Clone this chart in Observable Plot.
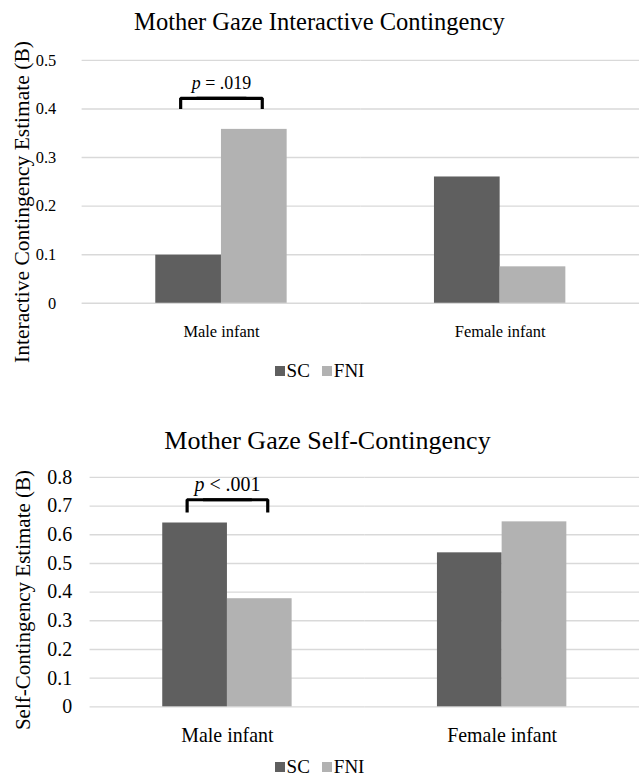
<!DOCTYPE html>
<html><head><meta charset="utf-8">
<script src="https://cdn.jsdelivr.net/npm/d3@7"></script>
<script src="https://cdn.jsdelivr.net/npm/@observablehq/plot@0.6"></script>
<style>
html,body{margin:0;padding:0;background:#fff;overflow:hidden;}
#wrap{position:relative;width:639px;height:780px;overflow:hidden;font-family:"Liberation Serif","Times New Roman",serif;color:#000;background:#fff;}
.title{position:absolute;left:0;text-align:center;white-space:nowrap;line-height:1;}
.ylab{position:absolute;white-space:nowrap;transform:translate(-50%,-50%) rotate(-90deg);line-height:1;}
.legend{position:absolute;left:0;width:639px;text-align:center;white-space:nowrap;line-height:1;}
.legend span.item{margin:0 6px;}
.sw{display:inline-block;width:10px;height:10px;margin-right:2px;vertical-align:1px;}
.chart{position:absolute;left:0;}
</style></head><body><div id="wrap"></div>
<script>
// ---- data ----
const categories = ["Male infant", "Female infant"];
const series = ["SC", "FNI"];
const interactiveSC = [0.099, 0.26];
const interactiveFNI = [0.358, 0.075];
const selfSC = [0.641, 0.537];
const selfFNI = [0.377, 0.645];
const interactiveTicks = [0, 0.1, 0.2, 0.3, 0.4, 0.5];
const selfTicks = [0, 0.1, 0.2, 0.3, 0.4, 0.5, 0.6, 0.7, 0.8];
const pLabels = ["p = .019", "p < .001"];
const titles = ["Mother Gaze Interactive Contingency", "Mother Gaze Self-Contingency"];
const yLabels = ["Interactive Contingency Estimate (B)", "Self-Contingency Estimate (B)"];
const interactiveBracket = [0.4, 0.422]; // leg bottom, bar top
const selfBracket = [0.678, 0.722];
const interactivePY = 0.442;
const selfPY = 0.752;

// ---- styles ----
const colors = ["#5f5f5f", "#b2b2b2"];
const gridColor = "#d9d9d9";
const font = '"Liberation Serif","Times New Roman",serif';

function rows(sc, fni) {
  const out = [];
  categories.forEach((c, i) => {
    out.push({category: c, series: "SC", value: sc[i]});
    out.push({category: c, series: "FNI", value: fni[i]});
  });
  return out;
}

function makeChart(cfg) {
  const data = rows(cfg.sc, cfg.fni);
  const [lo, hi] = cfg.bracket;
  const c0 = categories[0];
  // bracket in two overlapping halves, each nudged outward
  const leftHalf = [
    {category: c0, series: "SC", y: lo},
    {category: c0, series: "SC", y: hi},
    {category: c0, series: "FNI", y: hi}
  ];
  const rightHalf = [
    {category: c0, series: "SC", y: hi},
    {category: c0, series: "FNI", y: hi},
    {category: c0, series: "FNI", y: lo}
  ];
  const bracketStyle = {fx: "category", x: "series", y: "y", stroke: "#000", strokeWidth: 3.2,
    strokeLinejoin: "miter", strokeLinecap: "butt"};
  const svg = Plot.plot({
    width: cfg.width,
    height: cfg.height,
    marginTop: cfg.marginTop,
    marginBottom: cfg.marginBottom,
    marginLeft: cfg.marginLeft,
    marginRight: 0,
    style: {fontFamily: font, fontSize: cfg.fontSize + "px", color: "#000", background: "transparent", overflow: "visible"},
    fx: {domain: categories, padding: 0, label: null, tickSize: 0, tickPadding: cfg.catPadding},
    x: {domain: series, paddingInner: 0, paddingOuter: 1.1, axis: null},
    y: {domain: [0, cfg.ticks[cfg.ticks.length - 1]], ticks: cfg.ticks, tickSize: 0, tickPadding: cfg.tickPadding,
        label: null, tickFormat: d => d === 0 ? "0" : d.toFixed(1)},
    color: {domain: series, range: colors},
    marks: [
      Plot.ruleY(cfg.ticks, {stroke: gridColor, strokeWidth: 1.4}),
      Plot.barY(data, {fx: "category", x: "series", y: "value", fill: "series"}),
      Plot.line(leftHalf, {...bracketStyle, dx: -8}),
      Plot.line(rightHalf, {...bracketStyle, dx: 8}),
      Plot.text([{category: c0, label: cfg.pLabel, y: cfg.pY}], {fx: "category", y: "y", text: "label",
        fontSize: cfg.pSize, lineAnchor: "bottom", fill: "#000"})
    ]
  });
  // italicise the statistic symbol "p"
  svg.querySelectorAll("text").forEach(t => {
    const s = t.textContent;
    if (s === cfg.pLabel) {
      t.textContent = "";
      const ns = "http://www.w3.org/2000/svg";
      const a = document.createElementNS(ns, "tspan");
      a.setAttribute("font-style", "italic");
      a.textContent = "p";
      const b = document.createElementNS(ns, "tspan");
      b.textContent = s.slice(1);
      t.appendChild(a); t.appendChild(b);
    }
  });
  return svg;
}

const wrap = document.getElementById("wrap");
function add(html, cls, styles) {
  const d = document.createElement("div");
  d.className = cls;
  d.innerHTML = html;
  Object.assign(d.style, styles);
  wrap.appendChild(d);
  return d;
}
function legendHTML() {
  return series.map((s, i) => `<span class="item"><span class="sw" style="background:${colors[i]}"></span>${s}</span>`).join("");
}

// ---- top chart ----
add(titles[0], "title", {top: "10px", width: "639px", fontSize: "24.5px"});
const c1 = makeChart({sc: interactiveSC, fni: interactiveFNI, ticks: interactiveTicks, bracket: interactiveBracket,
  pLabel: pLabels[0], pY: interactivePY, width: 642, height: 310, marginTop: 20, marginBottom: 46, marginLeft: 81,
  fontSize: 16.5, pSize: 18, tickPadding: 26, catPadding: 22});
c1.classList.add("chart");
c1.style.top = "40px";
wrap.appendChild(c1);
add(yLabels[0], "ylab", {left: "23px", top: "202px", fontSize: "21.5px"});
add(legendHTML(), "legend", {top: "361px", fontSize: "19px"});

// ---- bottom chart ----
add(titles[1], "title", {top: "428px", width: "655px", fontSize: "26px"});
const c2 = makeChart({sc: selfSC, fni: selfFNI, ticks: selfTicks, bracket: selfBracket,
  pLabel: pLabels[1], pY: selfPY, width: 642, height: 300, marginTop: 20, marginBottom: 49.5, marginLeft: 89,
  fontSize: 20, pSize: 20, tickPadding: 18, catPadding: 21});
c2.classList.add("chart");
c2.style.top = "457px";
wrap.appendChild(c2);
add(yLabels[1], "ylab", {left: "23px", top: "600px", fontSize: "21px"});
add(legendHTML(), "legend", {top: "757px", fontSize: "19px"});
</script>
</body></html>
